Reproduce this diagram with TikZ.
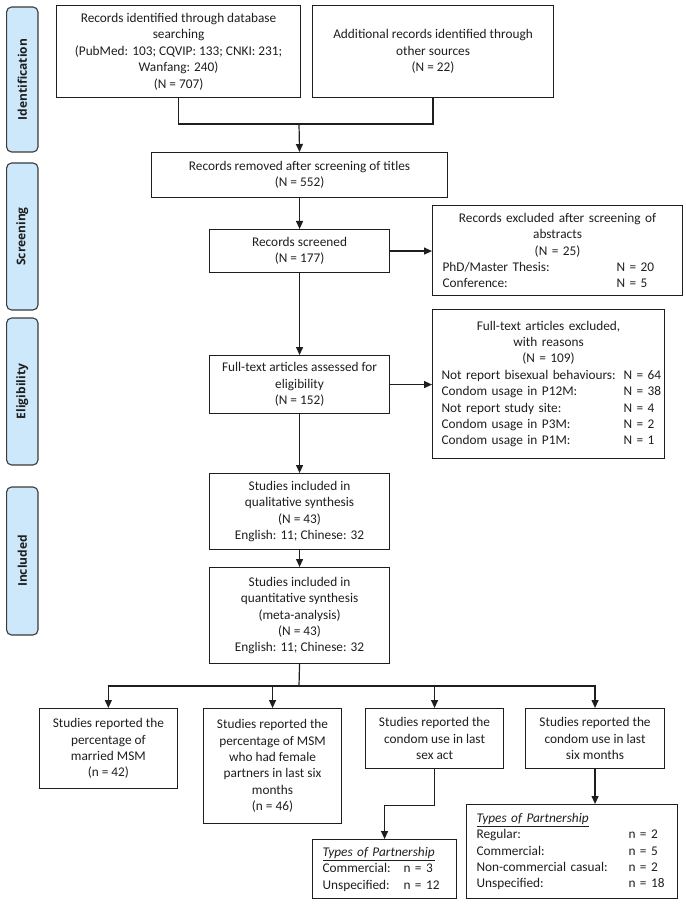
\documentclass[tikz,border=0pt]{standalone}
\usepackage{fontspec}
\setmainfont{Carlito}
\newfontfamily\sidefont{Open Sans}
\definecolor{pfBlue}{HTML}{CDE8FA}
\definecolor{pfEdge}{HTML}{3A3A3A}
\definecolor{pfInk}{HTML}{1E1E1E}
\usetikzlibrary{arrows.meta,positioning}

\begin{document}
\begin{tikzpicture}[x=1pt, y=-1pt,
  frame/.style={draw=pfInk, line width=1.1pt, anchor=north west, inner sep=0pt,
    text=pfInk, font=\fontsize{13.3}{16.4}\selectfont},
  box/.style={frame, align=center},
  listbox/.style={frame, text width=#1, minimum width=#1},
  tab/.style={draw=pfEdge, fill=pfBlue, line width=1.1pt, rounded corners=5pt,
    rotate=90, minimum width=#1, minimum height=31.4pt, inner sep=0pt,
    font=\sidefont\bfseries\fontsize{12}{13}\selectfont, text=pfInk},
  wire/.style={draw=pfInk, line width=1.2pt},
  arr/.style={wire, -{Triangle[length=8pt,width=7pt]}}]
  \useasboundingbox (0,0) rectangle (685,909);

  % Stage tabs
  \node[tab=145pt] (idtab) at (22.3,79.5) {Identification};
  \node[tab=147pt] (screentab) at (22.3,236.5) {Screening};
  \node[tab=147pt] (eligtab) at (22.3,391.5) {Eligibility};
  \node[tab=148pt] (incltab) at (22.3,561) {Included};

  % Identification
  \node[box, minimum width=244pt, minimum height=92pt] (dbrec) at (56,5)
    {Records identified through database\\searching\\(PubMed: 103; CQVIP: 133; CNKI: 231;\\Wanfang: 240)\\(N = 707)};
  \node[box, minimum width=241pt, minimum height=92pt] (otherrec) at (312,5)
    {Additional records identified through\\other sources\\(N = 22)};

  % Screening
  \node[box, minimum width=296pt, minimum height=45pt] (removed) at (151,152)
    {Records removed after screening of titles\\(N = 552)};
  \node[box, minimum width=180pt, minimum height=43pt] (screened) at (209,229)
    {Records screened\\(N = 177)};
  \node[listbox=250pt, minimum height=90pt] (abstracts) at (432,205)
    {{\centering Records excluded after screening of\\abstracts\\(N = 25)\par}
     \noindent\hspace*{10pt}\makebox[174pt][l]{PhD/Master Thesis:}\mbox{N = 20}\\
     \hspace*{10pt}\makebox[174pt][l]{Conference:}\mbox{N = 5}};

  % Eligibility
  \node[box, minimum width=180pt, minimum height=58pt] (fulltext) at (209,355)
    {Full-text articles assessed for\\eligibility\\(N = 152)};
  \node[listbox=232pt, minimum height=149pt] (excluded) at (432,309)
    {{\centering Full-text articles excluded,\\with reasons\\(N = 109)\par}
     \noindent\hspace*{9pt}\makebox[182pt][l]{Not report bisexual behaviours:}\mbox{N = 64}\\
     \hspace*{9pt}\makebox[182pt][l]{Condom usage in P12M:}\mbox{N = 38}\\
     \hspace*{9pt}\makebox[182pt][l]{Not report study site:}\mbox{N = 4}\\
     \hspace*{9pt}\makebox[182pt][l]{Condom usage in P3M:}\mbox{N = 2}\\
     \hspace*{9pt}\makebox[182pt][l]{Condom usage in P1M:}\mbox{N = 1}};

  % Included
  \node[box, minimum width=180pt, minimum height=76pt] (qual) at (209,473)
    {Studies included in\\qualitative synthesis\\(N = 43)\\English: 11; Chinese: 32};
  \node[box, minimum width=180pt, minimum height=96pt] (quant) at (209,567)
    {Studies included in\\quantitative synthesis\\(meta-analysis)\\(N = 43)\\English: 11; Chinese: 32};

  % Outcomes
  \node[box, minimum width=138.4pt, minimum height=80pt] (married) at (38.6,708)
    {Studies reported the\\percentage of\\married MSM\\(n = 42)};
  \node[box, minimum width=138pt, minimum height=115pt] (female) at (203,708)
    {Studies reported the\\percentage of MSM\\who had female\\partners in last six\\months\\(n = 46)};
  \node[box, minimum width=138pt, minimum height=60pt] (lastsex) at (365,708)
    {Studies reported the\\condom use in last\\sex act};
  \node[box, minimum width=139pt, minimum height=60pt] (sixmon) at (525,708)
    {Studies reported the\\condom use in last\\six months};
  \node[listbox=144pt, minimum height=59pt] (sexpart) at (312,839)
    {\noindent\hspace*{10pt}\underline{\textit{Types of Partnership}}\\
     \hspace*{10pt}\makebox[81pt][l]{Commercial:}\mbox{n = 3}\\
     \hspace*{10pt}\makebox[81pt][l]{Unspecified:}\mbox{n = 12}};
  \node[listbox=211pt, minimum height=94pt] (sixpart) at (466,804)
    {\noindent\hspace*{10pt}\underline{\textit{Types of Partnership}}\\
     \hspace*{10pt}\makebox[152pt][l]{Regular:}\mbox{n = 2}\\
     \hspace*{10pt}\makebox[152pt][l]{Commercial:}\mbox{n = 5}\\
     \hspace*{10pt}\makebox[152pt][l]{Non-commercial casual:}\mbox{n = 2}\\
     \hspace*{10pt}\makebox[152pt][l]{Unspecified:}\mbox{n = 18}};

  % Connectors
  \coordinate (join) at (299,124);
  \draw[wire] (dbrec.south) |- (join) -| (otherrec.south);
  \draw[arr] (join) -- (removed.north);
  \draw[arr] (removed.south) -- (screened.north);
  \draw[arr] (screened.east) -- (abstracts.west |- screened.east);
  \draw[arr] (screened.south) -- (fulltext.north);
  \draw[arr] (fulltext.east) -- (excluded.west |- fulltext.east);
  \draw[arr] (fulltext.south) -- (qual.north);
  \draw[arr] (qual.south) -- (quant.north);
  \coordinate (split) at (299,686);
  \draw[wire] (quant.south) -- (split);
  \draw[arr] (split) -| (married.north);
  \draw[arr] (split) -| (female.north);
  \draw[arr] (split) -| (lastsex.north);
  \draw[arr] (split) -| (sixmon.north);
  \draw[arr] (lastsex.south) -- ++(0,36) -| (sexpart.north);
  \draw[arr] (sixmon.south) -- (sixmon.south |- sixpart.north);

\end{tikzpicture}
\end{document}
